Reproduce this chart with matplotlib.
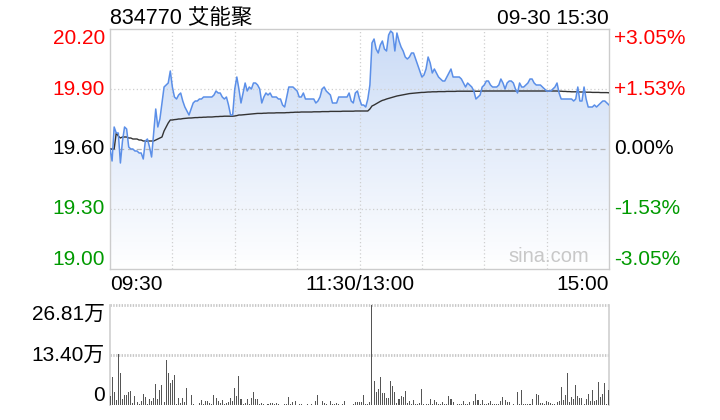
import numpy as np
import matplotlib.pyplot as plt
from matplotlib.colors import LinearSegmentedColormap
from matplotlib.patches import Polygon
import matplotlib.transforms as mtransforms

plt.rcParams['font.family'] = ['Liberation Sans', 'Noto Sans CJK SC', 'DejaVu Sans']

title = "834770 艾能聚"
stamp = "09-30 15:30"
prev_close = 19.60
price_ticks = [20.20, 19.90, 19.60, 19.30, 19.00]
price_labels = ["20.20", "19.90", "19.60", "19.30", "19.00"]
pct_labels = ["+3.05%", "+1.53%", "0.00%", "-1.53%", "-3.05%"]
time_labels = ["09:30", "11:30/13:00", "15:00"]
vol_ticks = [26.81, 13.40, 0]
vol_labels = ["26.81万", "13.40万", "0"]

# one value per minute, 09:30 .. 11:30 / 13:00 .. 15:00
prices = [
    19.60, 19.54, 19.71, 19.68, 19.68, 19.53, 19.64, 19.71, 19.70, 19.61,
    19.60, 19.60, 19.59, 19.59, 19.58, 19.58, 19.55, 19.64, 19.65, 19.61,
    19.56, 19.68, 19.80, 19.71, 19.75, 19.83, 19.91, 19.92, 19.93, 19.99,
    19.91, 19.86, 19.85, 19.87, 19.88, 19.84, 19.81, 19.79, 19.77, 19.80,
    19.83, 19.84, 19.84, 19.85, 19.85, 19.86, 19.86, 19.86, 19.86, 19.86,
    19.87, 19.89, 19.88, 19.88, 19.86, 19.85, 19.86, 19.82, 19.77, 19.77,
    19.90, 19.96, 19.90, 19.83, 19.88, 19.93, 19.89, 19.91, 19.90, 19.93,
    19.93, 19.92, 19.90, 19.83, 19.86, 19.88, 19.87, 19.88, 19.86, 19.86,
    19.86, 19.85, 19.85, 19.82, 19.81, 19.86, 19.91, 19.91, 19.91, 19.90,
    19.89, 19.86, 19.86, 19.88, 19.85, 19.85, 19.85, 19.85, 19.85, 19.83,
    19.84, 19.86, 19.90, 19.91, 19.89, 19.88, 19.87, 19.83, 19.83, 19.83,
    19.86, 19.86, 19.86, 19.86, 19.86, 19.88, 19.84, 19.83, 19.88, 19.89,
    19.85, 19.82, 19.82, 19.81, 19.85, 19.92, 20.13, 20.15, 20.10, 20.08,
    20.12, 20.14, 20.10, 20.09, 20.17, 20.19, 20.18, 20.09, 20.18, 20.14,
    20.11, 20.09, 20.06, 20.05, 20.06, 20.08, 20.08, 20.05, 20.02, 19.99,
    19.96, 19.97, 20.00, 20.06, 20.03, 19.98, 20.00, 19.98, 19.96, 19.95,
    19.94, 19.94, 19.96, 19.98, 20.00, 19.96, 19.96, 19.96, 19.96, 19.95,
    19.93, 19.91, 19.93, 19.92, 19.91, 19.89, 19.85, 19.86, 19.87, 19.91,
    19.92, 19.94, 19.94, 19.92, 19.91, 19.91, 19.91, 19.92, 19.95, 19.93,
    19.90, 19.93, 19.94, 19.94, 19.93, 19.90, 19.88, 19.93, 19.91, 19.91,
    19.92, 19.93, 19.95, 19.95, 19.93, 19.92, 19.92, 19.92, 19.91, 19.90,
    19.89, 19.89, 19.89, 19.90, 19.91, 19.93, 19.88, 19.85, 19.85, 19.85,
    19.85, 19.85, 19.85, 19.84, 19.85, 19.91, 19.84, 19.84, 19.91, 19.85,
    19.81, 19.81, 19.81, 19.82, 19.81, 19.82, 19.83, 19.84, 19.84, 19.83,
    19.82,
]

avg_prices = [
    19.60, 19.60, 19.60, 19.68, 19.665, 19.655, 19.66, 19.66, 19.66, 19.655,
    19.655, 19.65, 19.65, 19.65, 19.645, 19.645, 19.64, 19.64, 19.64, 19.64,
    19.64, 19.64, 19.645, 19.65, 19.655, 19.66, 19.69, 19.71, 19.73, 19.745,
    19.745, 19.747, 19.748, 19.75, 19.75, 19.752, 19.753, 19.754, 19.755, 19.755,
    19.756, 19.757, 19.757, 19.758, 19.758, 19.759, 19.759, 19.76, 19.76, 19.76,
    19.761, 19.762, 19.762, 19.763, 19.763, 19.764, 19.764, 19.764, 19.764, 19.764,
    19.765, 19.767, 19.77, 19.77, 19.771, 19.772, 19.773, 19.774, 19.775, 19.776,
    19.777, 19.778, 19.778, 19.778, 19.779, 19.779, 19.78, 19.78, 19.78, 19.78,
    19.781, 19.781, 19.781, 19.781, 19.781, 19.782, 19.782, 19.783, 19.783, 19.784,
    19.784, 19.784, 19.785, 19.785, 19.785, 19.785, 19.785, 19.785, 19.786, 19.786,
    19.786, 19.786, 19.787, 19.787, 19.787, 19.787, 19.788, 19.788, 19.788, 19.788,
    19.788, 19.788, 19.789, 19.789, 19.789, 19.789, 19.789, 19.789, 19.79, 19.79,
    19.79, 19.79, 19.79, 19.79, 19.79, 19.80, 19.815, 19.82, 19.826, 19.832,
    19.838, 19.843, 19.846, 19.85, 19.853, 19.856, 19.859, 19.862, 19.865, 19.867,
    19.869, 19.871, 19.873, 19.875, 19.877, 19.878, 19.879, 19.88, 19.881, 19.882,
    19.883, 19.883, 19.884, 19.885, 19.885, 19.886, 19.886, 19.886, 19.887, 19.887,
    19.887, 19.887, 19.888, 19.888, 19.888, 19.888, 19.888, 19.889, 19.889, 19.889,
    19.889, 19.889, 19.889, 19.889, 19.889, 19.889, 19.889, 19.889, 19.889, 19.89,
    19.89, 19.89, 19.89, 19.89, 19.89, 19.89, 19.89, 19.89, 19.89, 19.89,
    19.89, 19.89, 19.89, 19.89, 19.89, 19.89, 19.89, 19.89, 19.89, 19.89,
    19.89, 19.89, 19.89, 19.89, 19.89, 19.89, 19.89, 19.89, 19.89, 19.89,
    19.89, 19.89, 19.89, 19.89, 19.89, 19.89, 19.889, 19.889, 19.888, 19.888,
    19.887, 19.887, 19.886, 19.886, 19.886, 19.886, 19.885, 19.885, 19.885, 19.884,
    19.884, 19.884, 19.883, 19.883, 19.883, 19.883, 19.882, 19.882, 19.882, 19.882,
    19.881,
]

# volume in 万股 per minute
volumes = [
    2.4, 7.6, 3.6, 1.3, 13.7, 8.7, 1.6, 2.7, 2.7, 3.6,
    3.8, 0.6, 2.4, 0.9, 0.3, 1.2, 2.9, 2.2, 0.2, 1.5,
    1.2, 1.8, 5.6, 1.5, 4.0, 5.4, 0.9, 12.1, 8.5, 6.0,
    6.7, 8.0, 0.3, 1.8, 0.6, 2.0, 0.8, 4.5, 0.1, 2.7,
    0.3, 0.0, 0.1, 0.5, 1.3, 0.3, 1.1, 1.1, 0.5, 0.3,
    2.7, 1.8, 1.1, 0.5, 1.3, 0.3, 0.6, 0.9, 1.8, 1.2,
    4.5, 2.4, 7.8, 1.5, 0.3, 0.5, 1.5, 0.2, 1.8, 3.4,
    1.5, 1.5, 0.3, 0.5, 0.2, 0.0, 0.2, 0.5, 0.5, 0.3,
    0.5, 0.2, 0.0, 0.0, 0.2, 0.3, 2.1, 0.3, 0.9, 1.1,
    0.0, 0.2, 0.2, 0.0, 0.0, 0.2, 0.0, 0.2, 0.0, 1.1,
    2.7, 0.0, 1.1, 0.6, 0.2, 0.0, 1.1, 0.2, 0.3, 0.6,
    0.3, 0.0, 0.2, 1.1, 0.0, 0.0, 0.0, 0.2, 0.7, 0.8,
    0.7, 0.8, 2.7, 0.3, 0.2, 0.8, 26.81, 6.4, 3.6, 4.3,
    7.4, 3.3, 3.3, 2.0, 2.0, 6.4, 5.1, 3.6, 0.6, 1.6,
    2.4, 2.2, 3.8, 0.6, 1.1, 0.2, 1.3, 0.3, 0.2, 0.6,
    4.3, 0.2, 0.4, 0.2, 1.6, 0.2, 1.3, 0.8, 0.2, 0.4,
    0.7, 0.4, 0.4, 2.4, 1.6, 0.7, 0.0, 0.3, 0.3, 0.3,
    1.1, 0.4, 0.3, 0.8, 0.0, 1.1, 2.9, 1.3, 0.4, 1.3,
    0.3, 0.3, 0.6, 1.1, 0.3, 0.3, 0.3, 0.3, 1.1, 2.1,
    1.3, 0.8, 0.8, 0.0, 0.3, 0.0, 3.6, 0.3, 4.0, 0.3,
    0.3, 0.2, 0.2, 1.6, 0.0, 2.9, 2.7, 0.6, 0.6, 0.3,
    1.1, 0.8, 0.6, 0.2, 0.3, 0.8, 1.1, 4.9, 1.3, 2.7,
    8.7, 0.8, 2.1, 1.5, 5.4, 2.4, 1.8, 1.8, 0.3, 1.6,
    2.9, 1.1, 4.0, 1.1, 1.3, 6.3, 2.1, 2.9, 6.0, 0.3,
    4.0,
]

W, H = 720, 420
fig = plt.figure(figsize=(W / 100, H / 100), dpi=100)
fig.patch.set_facecolor('white')

def px_axes(left, top, right, bottom):
    return fig.add_axes([left / W, 1 - bottom / H, (right - left) / W, (bottom - top) / H])

red, green, black = '#ff0000', '#009a00', '#000000'
fs = 15

# --- price panel ---
ax = px_axes(110, 29, 609, 269)
x = np.arange(len(prices))
ax.set_xlim(0, 240)
ax.set_ylim(19.0, 20.2)

# gradient fill under the price line
cmap = LinearSegmentedColormap.from_list('fill', ['#ffffff', '#cadbf6'])
grad = np.linspace(0, 1, 256).reshape(-1, 1)
im = ax.imshow(grad, extent=[0, 240, 19.0, 20.2], origin='lower', aspect='auto',
               cmap=cmap, zorder=1)
poly = Polygon(np.column_stack([np.r_[x[0], x, x[-1]], np.r_[19.0, prices, 19.0]]),
               closed=True, facecolor='none', edgecolor='none')
ax.add_patch(poly)
im.set_clip_path(poly)

for m in range(30, 240, 30):
    ax.axvline(m, color='#cfcfcf', lw=0.9, ls=(0, (1, 2)), zorder=2)
for p in [19.9, 19.3]:
    ax.axhline(p, color='#cfcfcf', lw=0.9, ls=(0, (1, 2)), zorder=2)
ax.axhline(prev_close, color='#b5b5b5', lw=0.9, ls=(0, (4, 3)), zorder=2)

ax.plot(x, prices, color='#5b8fe8', lw=1.1, zorder=4)
ax.plot(x, avg_prices, color='#333333', lw=1.0, zorder=3)

ax.set_xticks([])
ax.set_yticks([])
for s in ax.spines.values():
    s.set_color('#cccccc')
    s.set_linewidth(1)

ax.text(0.88, 0.05, "sina.com", transform=ax.transAxes, ha='center', va='center',
        color='#c8c8c8', fontsize=14.5, zorder=5)

ptrans = mtransforms.blended_transform_factory(ax.transAxes, ax.transData)
for i, (p, lab, pct) in enumerate(zip(price_ticks, price_labels, pct_labels)):
    col = red if p > prev_close else (black if p == prev_close else green)
    va = 'top' if i == 0 else ('bottom' if i == len(price_ticks) - 1 else 'center')
    ax.text(-5 / 499, p, lab, transform=ptrans, ha='right', va=va, color=col, fontsize=fs)
    ax.text(1 + 5 / 499, p, pct, transform=ptrans, ha='left', va=va, color=col, fontsize=fs)

fig.text(110 / W, 1 - 18 / H, title, ha='left', va='center', fontsize=15.5, color='#000000')
fig.text(609 / W, 1 - 18 / H, stamp, ha='right', va='center', fontsize=fs, color='#000000')

fig.text(110 / W, 1 - 285 / H, time_labels[0], ha='left', va='center', fontsize=fs)
fig.text(360 / W, 1 - 285 / H, time_labels[1], ha='center', va='center', fontsize=fs)
fig.text(609 / W, 1 - 285 / H, time_labels[2], ha='right', va='center', fontsize=fs)

# --- volume panel ---
vx = px_axes(110, 305, 609, 405)
vx.set_xlim(0, 240)
vx.set_ylim(0, 26.81)
vx.bar(x, volumes, width=0.5, color='#555555', zorder=3)
for v in [13.40, 26.81]:
    vx.axhline(v, color='#c8c8c8', lw=2, ls=(0, (0.5, 0.5)), zorder=2, clip_on=False)
vx.set_xticks([])
vx.set_yticks([])
for side in ['top', 'bottom']:
    vx.spines[side].set_visible(False)
for side in ['left', 'right']:
    vx.spines[side].set_color('#d0d0d0')
    vx.spines[side].set_linewidth(1.2)

vtrans = mtransforms.blended_transform_factory(vx.transAxes, vx.transData)
for i, (v, lab) in enumerate(zip(vol_ticks, vol_labels)):
    va = 'top' if i == 0 else ('bottom' if i == len(vol_ticks) - 1 else 'center')
    vx.text(-5 / 499, v, lab, transform=vtrans, ha='right', va=va, fontsize=fs, color='#000000')

fig.savefig('out.png', dpi=100, facecolor='white')
